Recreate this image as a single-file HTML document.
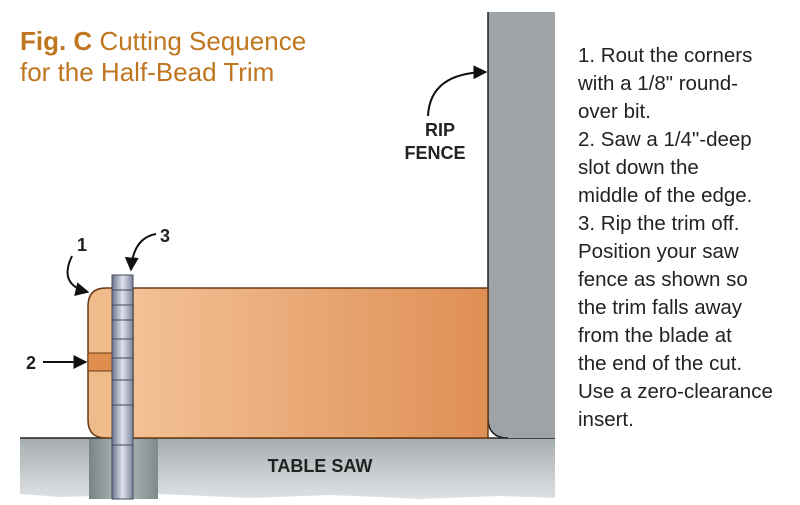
<!DOCTYPE html>
<html><head><meta charset="utf-8"><style>
html,body{margin:0;padding:0;background:#fff;width:800px;height:505px;overflow:hidden}
</style></head><body>
<svg width="800" height="505" viewBox="0 0 800 505" xmlns="http://www.w3.org/2000/svg" font-family="Liberation Sans, sans-serif">
<defs>
<linearGradient id="wood" x1="0" x2="1" y1="0" y2="0"><stop offset="0" stop-color="#f2c195"/><stop offset="1" stop-color="#df8f55"/></linearGradient>
<linearGradient id="tab" x1="0" x2="0" y1="0" y2="1"><stop offset="0" stop-color="#a6adb0"/><stop offset="1" stop-color="#dfe2e4"/></linearGradient>
<linearGradient id="slot" x1="0" x2="1"><stop offset="0" stop-color="#7a8487"/><stop offset="0.5" stop-color="#b5bcbe"/><stop offset="1" stop-color="#7f898c"/></linearGradient>
<linearGradient id="blade" x1="0" x2="1"><stop offset="0" stop-color="#6d7590"/><stop offset="0.5" stop-color="#dfe2ea"/><stop offset="1" stop-color="#7d859e"/></linearGradient>
<marker id="ah" viewBox="0 0 10 10" refX="9" refY="5" markerWidth="7" markerHeight="7" orient="auto"><path d="M0,0 L10,5 L0,10 z" fill="#111"/></marker>
</defs>
<text x="20" y="50" font-size="26" fill="#c0761f"><tspan font-weight="bold">Fig. C</tspan>  Cutting Sequence</text>
<text x="20" y="81" font-size="26" fill="#c0761f">for the Half-Bead Trim</text>
<!-- table -->
<path d="M20,438 H555 V498 L500,496 L420,499 L330,495 L250,498 L160,494 L60,497 L20,494 Z" fill="url(#tab)"/>
<line x1="20" y1="438" x2="555" y2="438" stroke="#222" stroke-width="1.5"/>
<rect x="89" y="439" width="69" height="60" fill="url(#slot)"/>
<text x="320" y="472" font-size="18" font-weight="bold" fill="#222" text-anchor="middle">TABLE SAW</text>
<!-- fence -->
<path d="M488,12 H555 V438 H508 Q488,438 488,418 Z" fill="#9da3a6"/>
<path d="M488,12 V418 Q488,438 508,438" fill="none" stroke="#222" stroke-width="1.5"/>
<!-- board -->
<rect x="133" y="288" width="355" height="150" fill="url(#wood)" stroke="#6a3a12" stroke-width="1.5"/>
<path d="M113,288 H106 Q88,288 88,306 V420 Q88,438 106,438 H113 Z" fill="#f0bb8a" stroke="#6a3a12" stroke-width="1.5"/>
<rect x="88" y="353" width="25" height="18" fill="#df8e50" stroke="#6a3a12" stroke-width="1"/>
<!-- blade -->
<rect x="112" y="275" width="21" height="224" fill="url(#blade)" stroke="#444a5a" stroke-width="1"/>
<g stroke="#444a5a" stroke-width="1">
<line x1="112" y1="290" x2="133" y2="290"/><line x1="112" y1="305" x2="133" y2="305"/><line x1="112" y1="320" x2="133" y2="320"/><line x1="112" y1="339" x2="133" y2="339"/><line x1="112" y1="358" x2="133" y2="358"/><line x1="112" y1="380" x2="133" y2="380"/><line x1="112" y1="405" x2="133" y2="405"/><line x1="112" y1="445" x2="133" y2="445"/>
</g>
<!-- labels -->
<text x="77" y="251" font-size="18" font-weight="bold" fill="#222">1</text>
<path d="M72,256 Q58,285 88,292" fill="none" stroke="#111" stroke-width="2" marker-end="url(#ah)"/>
<text x="160" y="242" font-size="18" font-weight="bold" fill="#222">3</text>
<path d="M156,234 Q133,238 131,270" fill="none" stroke="#111" stroke-width="2" marker-end="url(#ah)"/>
<text x="26" y="369" font-size="18" font-weight="bold" fill="#222">2</text>
<line x1="43" y1="362" x2="86" y2="362" stroke="#111" stroke-width="2" marker-end="url(#ah)"/>
<text x="440" y="136" font-size="18" font-weight="bold" fill="#222" text-anchor="middle">RIP</text>
<text x="435" y="159" font-size="18" font-weight="bold" fill="#222" text-anchor="middle">FENCE</text>
<path d="M428,116 Q430,73 486,72" fill="none" stroke="#111" stroke-width="2" marker-end="url(#ah)"/>
<g font-size="20.5" fill="#222">
<text x="578" y="62">1. Rout the corners</text>
<text x="578" y="90">with a 1/8" round-</text>
<text x="578" y="118">over bit.</text>
<text x="578" y="146">2. Saw a 1/4"-deep</text>
<text x="578" y="174">slot down the</text>
<text x="578" y="202">middle of the edge.</text>
<text x="578" y="230">3. Rip the trim off.</text>
<text x="578" y="258">Position your saw</text>
<text x="578" y="286">fence as shown so</text>
<text x="578" y="314">the trim falls away</text>
<text x="578" y="342">from the blade at</text>
<text x="578" y="370">the end of the cut.</text>
<text x="578" y="398">Use a zero-clearance</text>
<text x="578" y="426">insert.</text>
</g>
</svg>
</body></html>
